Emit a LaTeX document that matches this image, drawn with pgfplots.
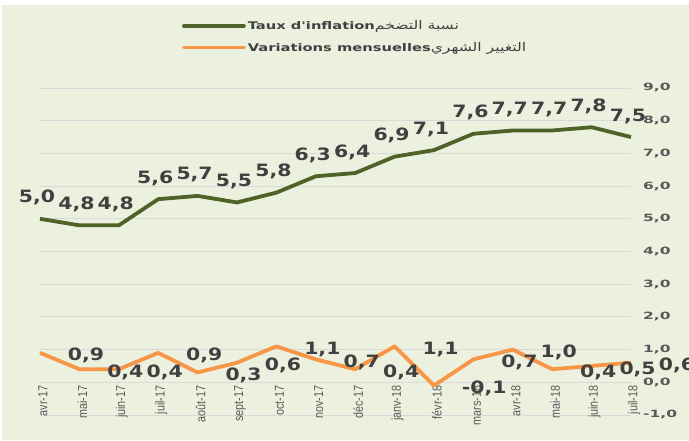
\documentclass[border=0pt]{standalone}
\usepackage{fontspec}
\usepackage{pgfplots}
\pgfplotsset{compat=1.18}
\TeXXeTstate=1
\setmainfont{DejaVu Sans}
\newfontfamily\labfont[FakeStretch=1.2]{DejaVu Sans Bold}
\newfontfamily\tickfont[FakeStretch=1.55]{DejaVu Sans Bold}
\newfontfamily\legfont[FakeStretch=1.4]{DejaVu Sans Bold}
\newfontfamily\arabicfont[Script=Arabic,FakeStretch=1.3]{DejaVu Sans}
\newfontfamily\xfont[FakeStretch=0.83]{Liberation Sans}
\definecolor{bg}{HTML}{EBF1DE}
\definecolor{infl}{HTML}{4F6228}
\definecolor{mens}{HTML}{F79646}
\definecolor{txt}{HTML}{404040}
\definecolor{tickc}{HTML}{595959}
\definecolor{gridc}{HTML}{D9D9D9}
\begin{document}
\begin{tikzpicture}
\fill[white] (-40pt,-26pt) rectangle (649pt,415pt);
\fill[bg] (-38pt,-25pt) rectangle (649pt,410pt);
\begin{axis}[
  at={(0pt,0pt)}, anchor=south west,
  scale only axis, width=591pt, height=327pt,
  xmin=0, xmax=15, ymin=-1, ymax=9,
  clip=false,
  axis x line=middle, axis y line=right,
  hide obscured x ticks=false,
  x axis line style={-, draw=gridc, line width=0.8pt},
  y axis line style={draw=none},
  xtick={0,...,15},
  xticklabels={avr-17,mai-17,juin-17,juil-17,août-17,sept-17,oct-17,nov-17,déc-17,janv-18,févr-18,mars-18,avr-18,mai-18,juin-18,juil-18},
  xtick style={draw=gridc, line width=0.8pt},
  tick align=outside, major tick length=3pt,
  xticklabel style={rotate=90, anchor=east, inner sep=0pt, yshift=-3pt, font=\xfont\fontsize{13}{13}\selectfont, text=tickc},
  ytick={-1,0,...,9},
  ytick style={draw=none},
  yticklabel style={anchor=west, inner sep=0pt, xshift=9pt, font=\tickfont\fontsize{10}{10}\selectfont, text=tickc},
  ymajorgrids, grid style={draw=gridc, line width=0.8pt},
  /pgf/number format/fixed,
  /pgf/number format/fixed zerofill,
  /pgf/number format/precision=1,
  /pgf/number format/use comma,
  /pgf/number format/assume math mode=true,
  legend style={at={(0.240,1)}, anchor=south west, yshift=33pt, draw=none, fill=none, inner sep=0pt, row sep=7pt,
    font=\legfont\fontsize{10.5}{11}\selectfont, text=txt, legend cell align=left},
  legend image code/.code={\draw[#1, line cap=round] (0pt,0pt) -- (60pt,0pt);},
]
\addplot[infl, line width=3.8pt, line join=round,
  nodes near coords,
  every node near coord/.append style={anchor=base, yshift=16pt, xshift=-3pt, inner sep=0pt,
    font=\labfont\fontsize{17}{17}\selectfont, text=txt}]
  coordinates {(0,5.0) (1,4.8) (2,4.8) (3,5.6) (4,5.7) (5,5.5) (6,5.8) (7,6.3) (8,6.4) (9,6.9) (10,7.1) (11,7.6) (12,7.7) (13,7.7) (14,7.8) (15,7.5)};
\addlegendentry{Taux d'inflation{\arabicfont\fontsize{12}{12}\selectfont\beginR نسبة التضخم\endR}}
\addplot[mens, line width=3.8pt, line join=round,
  nodes near coords,
  every node near coord/.append style={anchor=west, yshift=-3pt, xshift=26pt, inner sep=0pt,
    font=\labfont\fontsize{17}{17}\selectfont, text=txt}]
  coordinates {(0,0.9) (1,0.4) (2,0.4) (3,0.9) (4,0.3) (5,0.6) (6,1.1) (7,0.7) (8,0.4) (9,1.1) (10,-0.1) (11,0.7) (12,1.0) (13,0.4) (14,0.5) (15,0.6)};
\addlegendentry{Variations mensuelles{\arabicfont\fontsize{12}{12}\selectfont\beginR التغيير  الشهري\endR}}
\end{axis}
\pgfresetboundingbox
\path (-40pt,-26pt) rectangle (649pt,415pt);
\end{tikzpicture}
\end{document}
